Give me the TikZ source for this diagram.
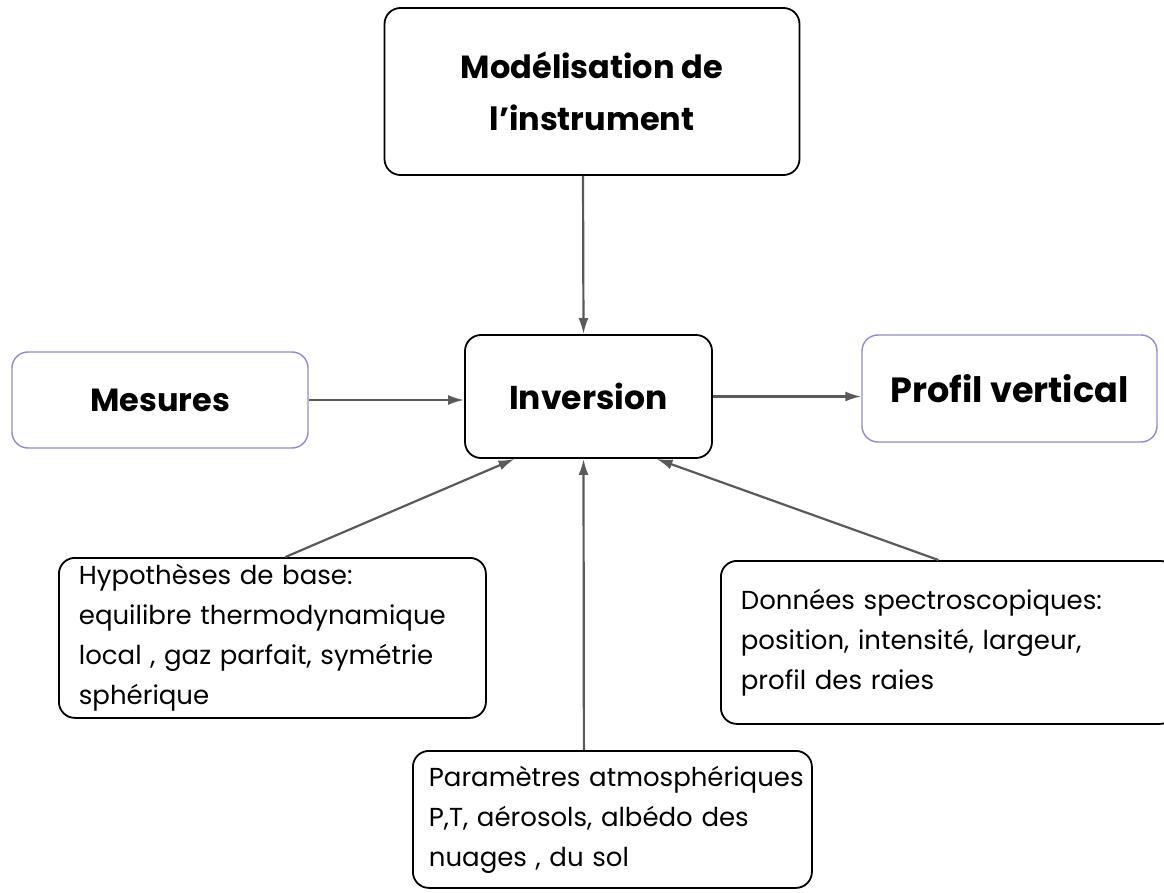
\documentclass[tikz,border=0pt]{standalone}
\usepackage{fontspec}
\setmainfont{Poppins}
\usetikzlibrary{arrows.meta,calc}
\definecolor{edgegray}{HTML}{5A5A5A}
\definecolor{lavender}{HTML}{8C8CD2}

\begin{document}
\begin{tikzpicture}[x=1pt,y=-1pt,
  box/.style={draw=black, line width=1.8pt, rounded corners=16pt,
    rectangle, inner sep=0pt},
  bluebox/.style={box, draw=lavender, line width=1.4pt},
  title/.style={font=\bfseries\fontsize{32}{52}\selectfont, align=center},
  note/.style={box, font=\fontsize{26}{40}\selectfont, align=left,
    inner xsep=20pt, anchor=north west},
  link/.style={draw=edgegray, line width=2.2pt,
    -{Latex[length=16pt,width=10pt]}}]

\useasboundingbox (0,0) rectangle (1164,893);
\fill[white] (0,0) rectangle (1164,893);

% main boxes
\node[box, title, minimum width=415pt, minimum height=167pt]
  (model) at (592,91.5) {Modélisation de\\l'instrument};
\node[bluebox, title, minimum width=296pt, minimum height=96pt]
  (mes) at (160,400) {Mesures};
\node[box, title, font=\bfseries\fontsize{33}{52}\selectfont,
  minimum width=247pt, minimum height=123pt]
  (inv) at (588.5,396.5) {Inversion};
\node[bluebox, title, font=\bfseries\fontsize{35}{52}\selectfont,
  minimum width=295pt, minimum height=107pt]
  (prof) at (1009.5,388.5) {Profil vertical};

% input notes (one box per line of text, no automatic wrapping)
\node[note, text width=387pt, minimum height=160pt]
  (hyp) at (58,557) {\mbox{Hypothèses de base:}\\\mbox{equilibre thermodynamique}\\\mbox{local , gaz parfait, symétrie}\\\mbox{sphérique}};
\node[note, text width=415pt, minimum height=163pt]
  (don) at (720,560) {\mbox{Données spectroscopiques:}\\\mbox{position, intensité, largeur,}\\\mbox{profil des raies}};
\node[note, inner xsep=16pt, text width=367pt, minimum height=137pt]
  (par) at (412,750) {\mbox{Paramètres atmosphériques}\\\mbox{P,T, aérosols, albédo des}\\\mbox{nuages , du sol}};

% connectors
\draw[link] ($(model.south)+(-9,0)$) -- ($(inv.north)+(-5,0)$);
\draw[link] (mes.east) -- (mes.east -| inv.west);
\draw[link] (inv.east) -- (inv.east -| prof.west);
\draw[link] ($(hyp.north)+(13,0)$) -- ($(inv.south)+(-74,0)$);
\draw[link] ($(par.north)+(-28.5,0)$) -- ($(inv.south)+(-5,0)$);
\draw[link] ($(don.north)+(-10,0)$) -- ($(inv.south)+(68,0)$);
\end{tikzpicture}
\end{document}
